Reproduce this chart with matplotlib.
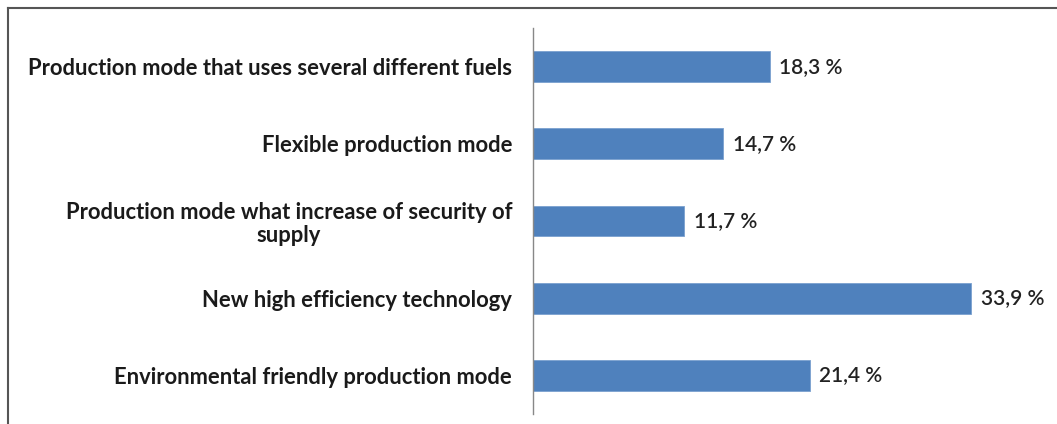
import matplotlib
matplotlib.use("Agg")
import matplotlib.pyplot as plt
from matplotlib.lines import Line2D

# Survey results, top to bottom as listed
categories = [
    "Production mode that uses several different fuels",
    "Flexible production mode",
    "Production mode what increase of security of\nsupply",
    "New high efficiency technology",
    "Environmental friendly production mode",
]
values = [18.3, 14.7, 11.7, 33.9, 21.4]
value_labels = ["18,3 %", "14,7 %", "11,7 %", "33,9 %", "21,4 %"]

plt.rcParams["font.family"] = ["Lato", "DejaVu Sans"]

fig = plt.figure(figsize=(10.57, 4.24), dpi=100)
ax = fig.add_axes([533 / 1057, 1 - 414 / 424, 517 / 1057, 386 / 424])

pos = list(range(len(categories)))[::-1]
ax.barh(pos, values, height=0.4, color="#4F81BD", edgecolor="#7AA0CF", linewidth=0.6)

for y, v, lab in zip(pos, values, value_labels):
    ax.text(v + 0.75, y, lab, va="center", ha="left", fontsize=15,
            color="#222222", fontweight="semibold")

ax.set_xlim(0, 40)
ax.set_ylim(-0.5, 4.5)
ax.set_yticks(pos)
ax.set_yticklabels(categories, fontsize=15.8, fontweight="bold", color="#1a1a1a",
                   multialignment="center", linespacing=1.1)
ax.tick_params(axis="y", length=0, pad=15)
ax.set_xticks([])
for s in ("top", "right", "bottom"):
    ax.spines[s].set_visible(False)
ax.spines["left"].set_color("#888888")
ax.spines["left"].set_linewidth(1.0)

# outer frame (top and left edges)
fig.add_artist(Line2D([8 / 1057, 1], [1 - 8 / 424, 1 - 8 / 424], transform=fig.transFigure,
                      color="#555555", linewidth=1.5))
fig.add_artist(Line2D([8 / 1057, 8 / 1057], [0, 1 - 8 / 424], transform=fig.transFigure,
                      color="#555555", linewidth=1.5))

fig.savefig("out.png", dpi=100, facecolor="white")
